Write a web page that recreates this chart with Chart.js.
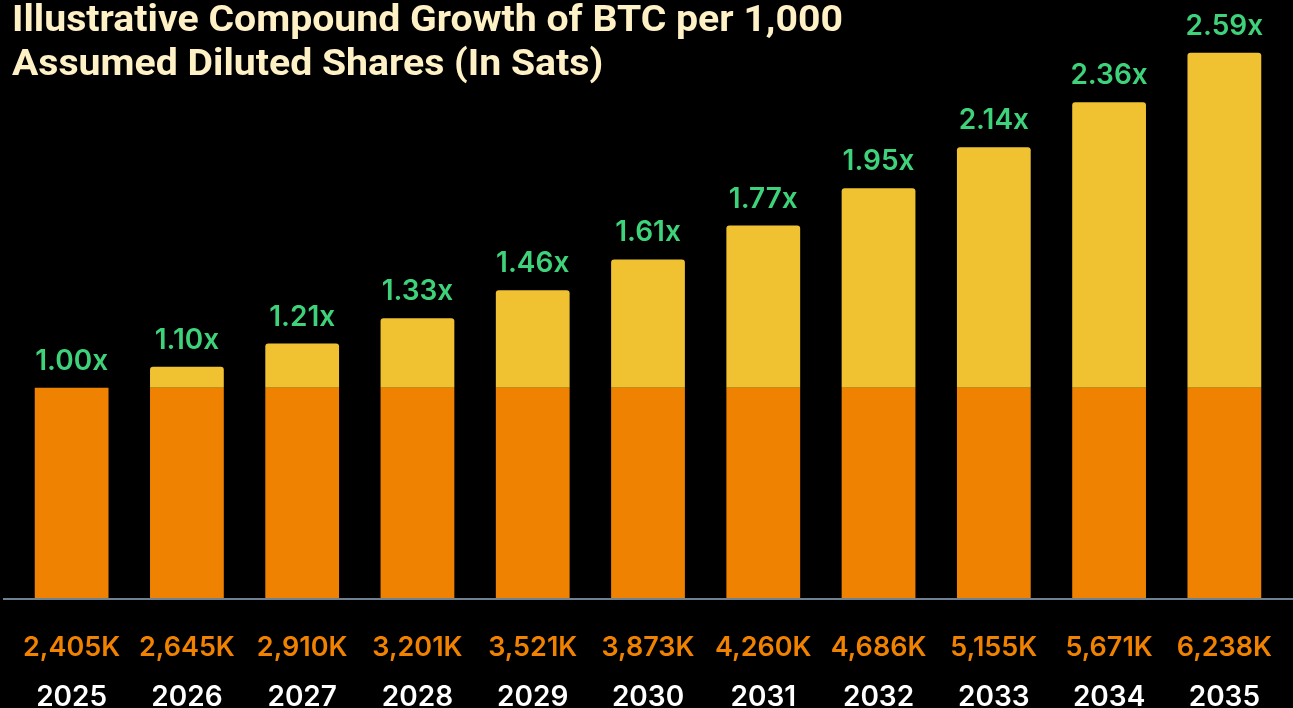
<!DOCTYPE html>
<html>
<head>
<meta charset="utf-8">
<script src="https://cdn.jsdelivr.net/npm/chart.js@4.4.1/dist/chart.umd.min.js"></script>
<style>
  html,body{margin:0;padding:0;background:#000;overflow:hidden;}
  #wrap{position:relative;width:1293px;height:708px;background:#000;}
  canvas{position:absolute;left:0;top:0;}
  #title{position:absolute;left:12px;top:-3px;margin:0;color:#FFF1C6;
    font-family:Roboto,"Liberation Sans",sans-serif;font-weight:700;font-size:37px;line-height:44px;
    transform-origin:0 0;white-space:nowrap;z-index:2;}
  #title span{display:inline-block;}
</style>
</head>
<body>
<div id="wrap">
  <canvas id="c" width="1293" height="708"></canvas>
  <div id="title"><span id="t1">Illustrative Compound Growth of BTC per 1,000</span><br><span id="t2">Assumed Diluted Shares (In Sats)</span></div>
</div>
<script>
const years = ['2025','2026','2027','2028','2029','2030','2031','2032','2033','2034','2035'];
const baseSats = [2405,2405,2405,2405,2405,2405,2405,2405,2405,2405,2405];
const growthSats = [0,240,505,796,1116,1468,1855,2281,2750,3266,3833];
const totalLabels = ['2,405K','2,645K','2,910K','3,201K','3,521K','3,873K','4,260K','4,686K','5,155K','5,671K','6,238K'];
const multiples = ['1.00x','1.10x','1.21x','1.33x','1.46x','1.61x','1.77x','1.95x','2.14x','2.36x','2.59x'];

(function(){
  const t = document.getElementById('title');
  const w = document.getElementById('t1').getBoundingClientRect().width;
  t.style.transform = 'scaleX(' + (831 / w) + ')';
})();

const fam = 'Inter, "Noto Sans", sans-serif';

const labelPlugin = {
  id: 'labels',
  afterDatasetsDraw(chart) {
    const ctx = chart.ctx;
    const x = chart.scales.x, y = chart.scales.y;
    const y0 = y.getPixelForValue(0);
    ctx.save();
    ctx.strokeStyle = '#6F8090';
    ctx.lineWidth = 2;
    ctx.beginPath();
    ctx.moveTo(3, y0 + 1);
    ctx.lineTo(chart.width, y0 + 1);
    ctx.stroke();
    ctx.textAlign = 'center';
    ctx.textBaseline = 'alphabetic';
    years.forEach((yr, i) => {
      const cx = x.getPixelForValue(i);
      const top = y.getPixelForValue(baseSats[i] + growthSats[i]);
      ctx.font = '600 28px ' + fam;
      ctx.fillStyle = '#3ED27B';
      ctx.fillText(multiples[i], cx, top - 18);
      ctx.font = '600 27px ' + fam;
      ctx.fillStyle = '#F08200';
      ctx.fillText(totalLabels[i], cx, y0 + 58);
      ctx.font = '600 28px ' + fam;
      ctx.fillStyle = '#FFFFFF';
      ctx.fillText(yr, cx, y0 + 108);
    });
    ctx.restore();
  }
};

new Chart(document.getElementById('c'), {
  type: 'bar',
  data: {
    labels: years,
    datasets: [
      { label: 'Base', data: baseSats, backgroundColor: '#EF8200', borderWidth: 0, borderSkipped: false, borderRadius: 0 },
      { label: 'Growth', data: growthSats, backgroundColor: '#F0C232', borderWidth: 0,
        borderRadius: { topLeft: 3, topRight: 3, bottomLeft: 0, bottomRight: 0 }, borderSkipped: false }
    ]
  },
  options: {
    responsive: false,
    animation: false,
    layout: { padding: { left: 14, right: 11, top: 0, bottom: 110 } },
    datasets: { bar: { barPercentage: 0.64, categoryPercentage: 1.0 } },
    plugins: { legend: { display: false }, tooltip: { enabled: false }, title: { display: false } },
    scales: {
      x: { stacked: true, display: false, grid: { display: false } },
      y: { stacked: true, display: false, min: 0, max: 6840, grid: { display: false } }
    }
  },
  plugins: [labelPlugin]
});
</script>
</body>
</html>
